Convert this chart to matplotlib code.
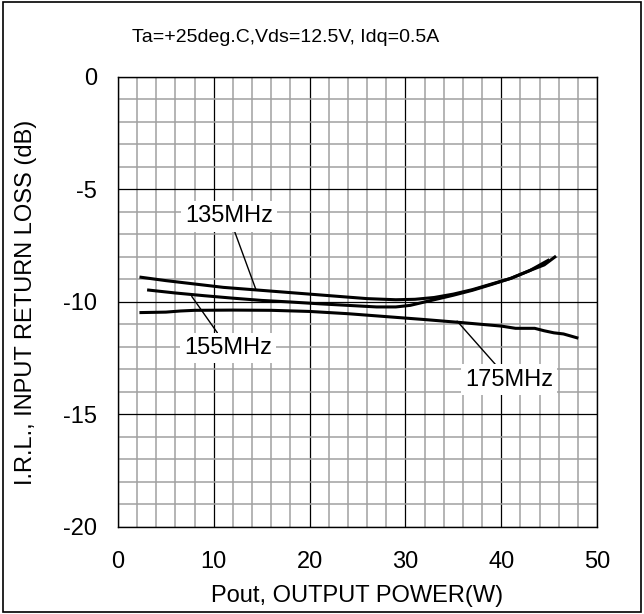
import matplotlib.pyplot as plt
from matplotlib.ticker import MultipleLocator

plt.rcParams['font.family'] = ['Liberation Sans', 'DejaVu Sans']
plt.rcParams['axes.unicode_minus'] = False

# data
x135 = [2.4, 5, 8, 11, 14, 17, 20, 23, 26, 29, 31, 33, 35, 37, 39, 41, 43, 44.5, 45.6]
y135 = [-8.9, -9.05, -9.2, -9.35, -9.45, -9.55, -9.65, -9.75, -9.85, -9.9,
        -9.88, -9.8, -9.65, -9.45, -9.2, -8.95, -8.6, -8.35, -8.0]
x155 = [3.2, 6, 9, 12, 15, 18, 21, 24, 27, 29, 30.5, 32, 33.5, 35, 37, 39, 41, 43, 44.9]
y155 = [-9.47, -9.6, -9.72, -9.83, -9.93, -10.0, -10.08, -10.15, -10.22, -10.22,
        -10.15, -10.0, -9.85, -9.7, -9.48, -9.22, -8.95, -8.6, -8.15]
x175 = [2.4, 5, 6.5, 8, 12, 16, 20, 24, 28, 32, 36, 40, 41.5, 43.5, 44.5, 45.5, 46.5, 47.9]
y175 = [-10.47, -10.45, -10.4, -10.37, -10.36, -10.37, -10.42, -10.52, -10.65, -10.78,
        -10.92, -11.07, -11.17, -11.17, -11.28, -11.37, -11.42, -11.59]

fig = plt.figure(figsize=(6.44, 6.14), dpi=100)
ax = fig.add_axes([0.1832, 0.1417, 0.7438, 0.7329])

# grid
ax.set_xlim(0, 50)
ax.set_ylim(-20, 0)
ax.xaxis.set_major_locator(MultipleLocator(10))
ax.xaxis.set_minor_locator(MultipleLocator(2))
ax.yaxis.set_major_locator(MultipleLocator(5))
ax.yaxis.set_minor_locator(MultipleLocator(1))
ax.grid(which='minor', color='#a0a0a0', linewidth=1.1)
ax.grid(which='major', color='black', linewidth=0.9)
ax.set_axisbelow(True)
ax.tick_params(which='both', length=0, labelsize=17)
ax.tick_params(axis='y', pad=15)
ax.tick_params(axis='x', pad=17)
for s in ax.spines.values():
    s.set_linewidth(1.0)

for xs, ys in [(x135, y135), (x155, y155), (x175, y175)]:
    ax.plot(xs, ys, color='black', linewidth=2.2)

box = dict(facecolor='white', edgecolor='none', pad=3)
line = dict(arrowstyle='-', color='black', lw=1.0, shrinkA=0, shrinkB=0)
ax.annotate('135MHz', xy=(14.4, -9.45), xytext=(11.6, -6.2), fontsize=17,
            ha='center', va='center', bbox=box, arrowprops=line)
ax.annotate('155MHz', xy=(7.7, -9.75), xytext=(11.5, -12.05), fontsize=17,
            ha='center', va='center', bbox=box, arrowprops=line)
ax.annotate('175MHz', xy=(35.4, -10.85), xytext=(40.8, -13.45), fontsize=17,
            ha='center', va='center', bbox=box, arrowprops=line)

ax.set_xlabel('Pout, OUTPUT POWER(W)', fontsize=17, labelpad=9)
ax.set_ylabel('I.R.L., INPUT RETURN LOSS (dB)', fontsize=17, labelpad=19)

fig.text(132 / 644, 1 - 42 / 614, 'Ta=+25deg.C,Vds=12.5V, Idq=0.5A', fontsize=14, va='baseline')

# frame around the whole picture
fig.patches.append(plt.Rectangle((0.004, 0.003), 0.992, 0.994, transform=fig.transFigure,
                                 fill=False, edgecolor='black', linewidth=1.2))

fig.savefig('out.png', dpi=100)
